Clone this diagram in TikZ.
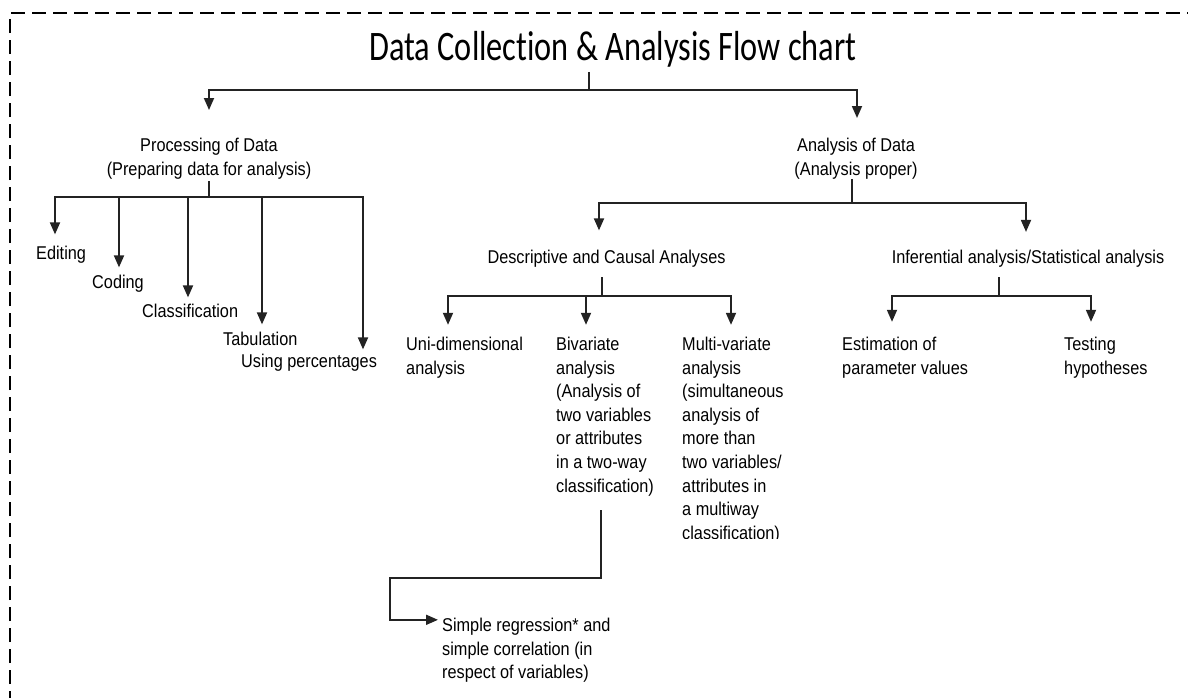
\documentclass[tikz,border=0pt]{standalone}
\usepackage{fontspec}
\setmainfont{Liberation Sans}[FakeStretch=0.88]
\newfontfamily\titlefont{Carlito}[FakeStretch=0.77,Ligatures=NoCommon]
\usepackage{xcolor}
\usepackage{tikz}
\usetikzlibrary{positioning,arrows.meta,calc}
\definecolor{linegray}{RGB}{35,35,35}
\tikzset{
  txt/.style   = {inner sep=0pt, font=\fontsize{18.5}{23.6}\selectfont, text=black},
  ltxt/.style  = {txt, align=left, anchor=north west},
  ctxt/.style  = {txt, align=center, anchor=north},
  link/.style  = {line width=1.8pt, draw=linegray},
  flow/.style  = {link, -{Triangle[length=12pt,width=10pt]}},
  frame/.style = {line width=2.2pt, dash pattern=on 14pt off 7pt},
}

\begin{document}
\begin{tikzpicture}[x=1pt,y=-1pt]
  \useasboundingbox (0,0) rectangle (1188,697);
  \clip (0,0) rectangle (1188,697);
  \draw[frame] (10,705) -- (10,13) -- (1195,13);

  \node[txt, font=\titlefont\fontsize{42}{50}\selectfont, anchor=base, inner ysep=5pt] (title) at (613,60) {Data Collection \& Analysis Flow chart};

  \node[ctxt] (proc) at (209,138) {Processing of Data\\(Preparing data for analysis)};
  \node[ctxt] (anal) at (856,138) {Analysis of Data\\(Analysis proper)};

  \node[txt, anchor=base west] (edit) at (36,259) {Editing};
  \node[txt, anchor=base west] (cod) at (92,288) {Coding};
  \node[txt, anchor=base west] (clas) at (142,317) {Classification};
  \node[txt, anchor=base west] (tab) at (223,345) {Tabulation};
  \node[txt, anchor=base west] (perc) at (241,367) {Using percentages};

  \node[txt, anchor=base] (desc) at (606.5,263) {Descriptive and Causal Analyses};
  \node[txt, anchor=base] (infer) at (1028,263) {Inferential analysis/Statistical analysis};

  \node[ltxt] (uni) at (406,336.8) {Uni-dimensional\\analysis};
  \node[ltxt] (biv) at (556,336.8) {Bivariate\\analysis\\(Analysis of\\two variables\\or attributes\\in a two-way\\classification)};
  \begin{scope}
    \clip (670,320) rectangle (800,538);
    \node[ltxt] (multi) at (682,336.8) {Multi-variate\\analysis\\(simultaneous\\analysis of\\more than\\two variables/\\attributes in\\a multiway\\classification)};
  \end{scope}
  \node[ltxt] (est) at (842,336.8) {Estimation of\\parameter values};
  \node[ltxt] (test) at (1064,336.8) {Testing\\hypotheses};

  \node[ltxt] (simp) at (442,617.8) {Simple regression* and\\simple correlation (in\\respect of variables)};

  \coordinate (topbar) at (589,90);
  \draw[link] (title.south -| topbar) -- (topbar);
  \draw[flow] (topbar) -| ([yshift=28pt]proc.north);
  \draw[flow] (topbar) -| ([xshift=1pt,yshift=20pt]anal.north);

  \coordinate (procbar) at (209,197);
  \draw[link, shorten <=2pt] (proc.south) -- (procbar);
  \draw[flow] (procbar) -| ([xshift=19pt,yshift=11pt]edit.north west);
  \draw[flow] (procbar) -| ([xshift=27pt,yshift=7pt]cod.north west);
  \draw[flow] (procbar) -| ([xshift=46pt,yshift=6pt]clas.north west);
  \draw[flow] (procbar) -| ([xshift=39pt,yshift=7pt]tab.north west);
  \draw[flow] (procbar) -| ([xshift=122pt,yshift=4pt]perc.north west);

  \coordinate (analbar) at (852,203);
  \draw[link] (anal.south -| analbar) -- (analbar);
  \draw[flow] (analbar) -| ([xshift=-7.5pt,yshift=19pt]desc.north);
  \draw[flow] (analbar) -| ([xshift=-2pt,yshift=17.5pt]infer.north);

  \coordinate (descbar) at (602,296);
  \draw[link, shorten <=10pt] (desc.south -| descbar) -- (descbar);
  \draw[flow] (descbar) -| ([xshift=42pt,yshift=12pt]uni.north west);
  \draw[flow] (descbar) -| ([xshift=30pt,yshift=12pt]biv.north west);
  \draw[flow] (descbar) -| ([xshift=49pt,yshift=12pt]multi.north west);

  \coordinate (inferbar) at (999,296);
  \draw[link, shorten <=10pt] (infer.south -| inferbar) -- (inferbar);
  \draw[flow] (inferbar) -| ([xshift=50pt,yshift=15pt]est.north west);
  \draw[flow] (inferbar) -| ([xshift=27pt,yshift=15pt]test.north west);

  \coordinate (bivdrop) at (601,578);
  \coordinate (simpturn) at (390,578);
  \draw[flow, shorten <=14pt] (biv.south -| bivdrop) -- (bivdrop) -- (simpturn) |- ([xshift=-4pt,yshift=-2pt]simp.north west);
\end{tikzpicture}
\end{document}
